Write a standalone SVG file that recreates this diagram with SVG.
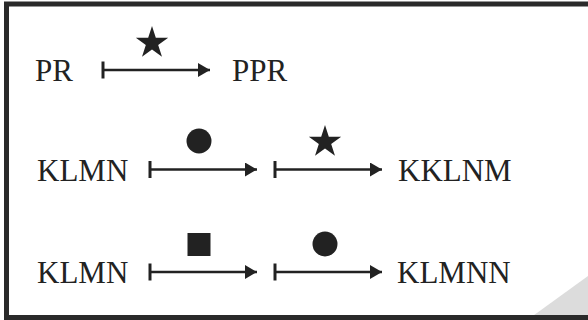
<svg xmlns="http://www.w3.org/2000/svg" width="588" height="320" viewBox="0 0 588 320">
  <style>
    .lbl { font-family: "Liberation Serif", "Times New Roman", serif; font-size: 31px; fill: #222; }
    .conn { stroke: #222; stroke-width: 2.5; fill: none; }
    .bar { stroke: #222; stroke-width: 3; }
    .sym { fill: #222; }
  </style>
  <defs>
    <marker id="ah" markerUnits="userSpaceOnUse" markerWidth="14" markerHeight="16" refX="12" refY="7" orient="auto">
      <path d="M0,0 L12,7 L0,14 Z" fill="#222"/>
    </marker>
    <path id="star" d="M0,-17 L3.82,-5.26 L16.17,-5.25 L6.18,2.01 L9.99,13.75 L0,6.5 L-9.99,13.75 L-6.18,2.01 L-16.17,-5.25 L-3.82,-5.26 Z"/>
  </defs>
  <rect width="588" height="320" fill="#fff"/>
  <polygon points="530,318 588,276 588,318" fill="#dcdcdc"/>
  <rect x="6.5" y="4" width="600" height="313.5" fill="none" stroke="#2a2a2a" stroke-width="5"/>

  <g id="node-PR"><text class="lbl" x="35" y="81">PR</text></g>
  <g id="node-PPR"><text class="lbl" x="232" y="81">PPR</text></g>
  <g id="node-KLMN-1"><text class="lbl" x="37" y="181">KLMN</text></g>
  <g id="node-KKLNM"><text class="lbl" x="398" y="181">KKLNM</text></g>
  <g id="node-KLMN-2"><text class="lbl" x="37" y="283">KLMN</text></g>
  <g id="node-KLMNN"><text class="lbl" x="397" y="283">KLMNN</text></g>

  <g id="connectors">
    <line class="bar" x1="103" y1="61.5" x2="103" y2="78.5"/>
    <line class="conn" x1="103" y1="70" x2="210" y2="70" marker-end="url(#ah)"/>
    <use href="#star" class="sym" x="152" y="43"/>

    <line class="bar" x1="150" y1="161" x2="150" y2="178"/>
    <line class="conn" x1="150" y1="169.5" x2="257" y2="169.5" marker-end="url(#ah)"/>
    <circle class="sym" cx="199" cy="141" r="12.5"/>

    <line class="bar" x1="275" y1="161" x2="275" y2="178"/>
    <line class="conn" x1="275" y1="169.5" x2="382" y2="169.5" marker-end="url(#ah)"/>
    <use href="#star" class="sym" x="325" y="142"/>

    <line class="bar" x1="150" y1="263.5" x2="150" y2="280.5"/>
    <line class="conn" x1="150" y1="272" x2="257" y2="272" marker-end="url(#ah)"/>
    <rect class="sym" x="187.5" y="233" width="23" height="23"/>

    <line class="bar" x1="275" y1="263.5" x2="275" y2="280.5"/>
    <line class="conn" x1="275" y1="272" x2="382" y2="272" marker-end="url(#ah)"/>
    <circle class="sym" cx="325" cy="244" r="12.5"/>
  </g>
</svg>
